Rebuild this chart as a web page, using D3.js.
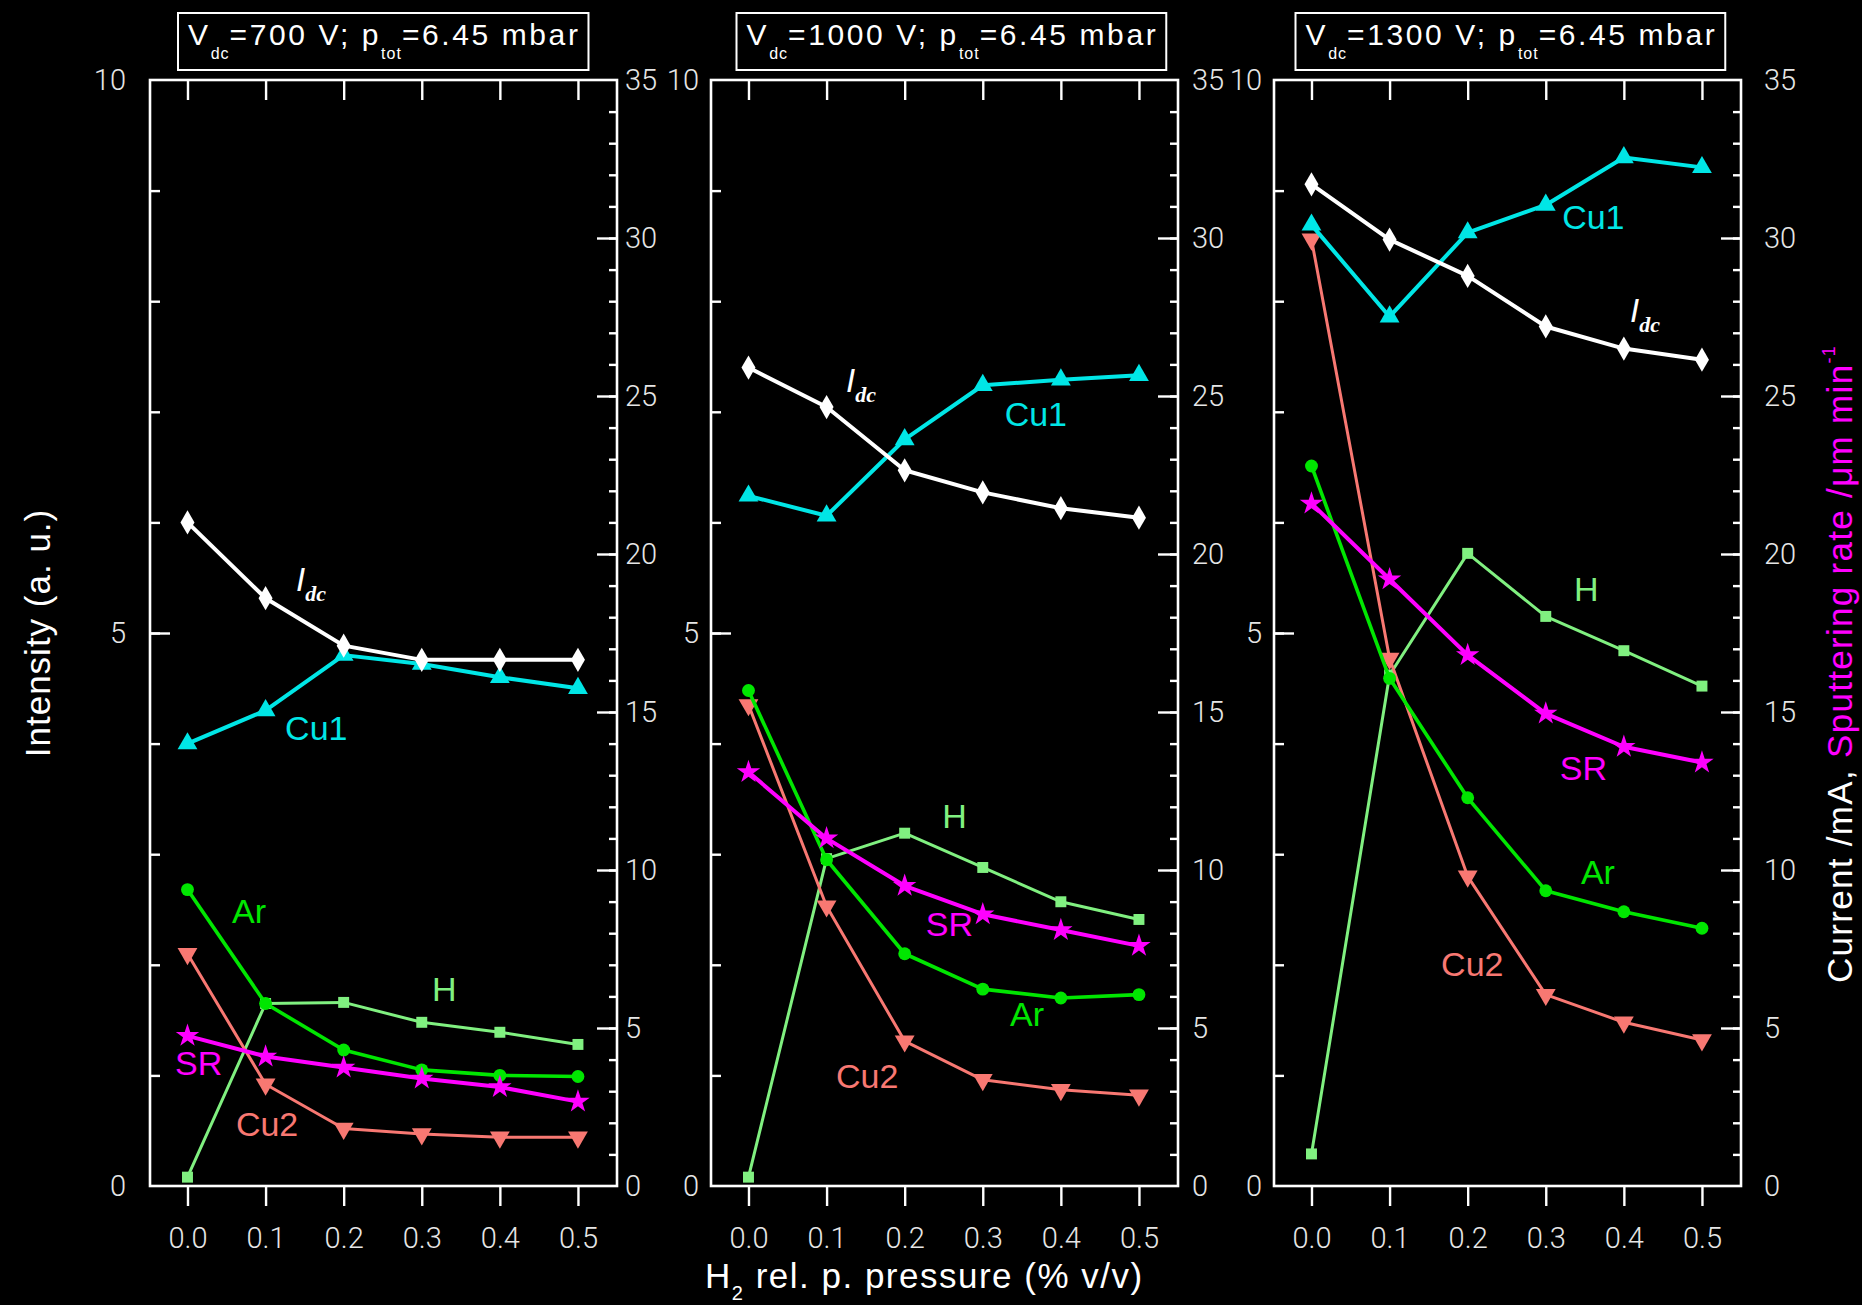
<!DOCTYPE html>
<html><head><meta charset="utf-8">
<script src="https://cdn.jsdelivr.net/npm/d3@7"></script>
<style>
html,body{margin:0;padding:0;background:#000;}
svg{display:block;}
text{white-space:pre;}
</style></head><body>
<svg id="chart" width="1862" height="1305"></svg>
<script>
// ---------------- DATA ----------------
const pressure = [0.0, 0.1, 0.2, 0.3, 0.4, 0.5];
const xTickLabels = ["0.0", "0.1", "0.2", "0.3", "0.4", "0.5"];
const leftTicks = [0, 5, 10];
const rightTicks = [0, 5, 10, 15, 20, 25, 30, 35];
const voltages = ["700", "1000", "1300"];
const totalPressure = "6.45";

// Vdc = 700 V
const idc_700 = [21.0, 18.6, 17.1, 16.65, 16.65, 16.65];
const cu1_700 = [4.0, 4.3, 4.8, 4.72, 4.6, 4.5];
const ar_700  = [2.68, 1.65, 1.23, 1.05, 1.0, 0.99];
const h_700   = [0.08, 1.65, 1.66, 1.48, 1.39, 1.28];
const cu2_700 = [2.1, 0.92, 0.52, 0.47, 0.44, 0.44];
const sr_700  = [4.75, 4.1, 3.75, 3.4, 3.13, 2.67];
// Vdc = 1000 V
const idc_1000 = [25.9, 24.65, 22.65, 21.95, 21.45, 21.15];
const cu1_1000 = [6.24, 6.06, 6.75, 7.24, 7.29, 7.33];
const ar_1000  = [4.48, 2.95, 2.1, 1.78, 1.7, 1.73];
const h_1000   = [0.08, 2.96, 3.19, 2.88, 2.57, 2.41];
const cu2_1000 = [4.35, 2.53, 1.31, 0.96, 0.87, 0.82];
const sr_1000  = [13.1, 11.0, 9.5, 8.6, 8.1, 7.6];
// Vdc = 1300 V
const idc_1300 = [31.7, 29.95, 28.8, 27.2, 26.5, 26.15];
const cu1_1300 = [8.69, 7.86, 8.62, 8.87, 9.3, 9.21];
const ar_1300  = [6.51, 4.59, 3.51, 2.67, 2.48, 2.33];
const h_1300   = [0.29, 4.62, 5.72, 5.15, 4.84, 4.52];
const cu2_1300 = [8.56, 4.77, 2.8, 1.73, 1.48, 1.32];
const sr_1300  = [21.6, 19.2, 16.8, 14.95, 13.9, 13.4];

const seriesNames = {h: "H", cu2: "Cu2", ar: "Ar", sr: "SR", cu1: "Cu1", idc: "I"};

const panelData = [
  {idc: idc_700, cu1: cu1_700, ar: ar_700, h: h_700, cu2: cu2_700, sr: sr_700},
  {idc: idc_1000, cu1: cu1_1000, ar: ar_1000, h: h_1000, cu2: cu2_1000, sr: sr_1000},
  {idc: idc_1300, cu1: cu1_1300, ar: ar_1300, h: h_1300, cu2: cu2_1300, sr: sr_1300}
];

// ---------------- LAYOUT / STYLE ----------------
const plotTop = 80, plotBottom = 1186, plotW = 467;
const panelLeft = [150, 711, 1274];
const leftLabelGap = [24, 12, 12];
const rightLabelGap = [8, 14, 23];
const titleTextX = [188, 746.5, 1305.5];
const tickFont = "Roboto, 'Liberation Sans', Arial, sans-serif";
const mainFont = "'Liberation Sans', Arial, sans-serif";

// series label anchors (data coordinates: pressure, left-axis intensity)
const labelPos = [
  {idc: [0.139, 5.38], cu1: [0.125, 4.03], ar: [0.057, 2.38], h: [0.313, 1.67], sr: [-0.016, 1.0], cu2: [0.062, 0.45]},
  {idc: [0.125, 7.18], cu1: [0.328, 6.87], h: [0.248, 3.24], sr: [0.227, 2.26], ar: [0.335, 1.45], cu2: [0.112, 0.89]},
  {cu1: [0.321, 8.65], idc: [0.408, 7.81], h: [0.336, 5.29], sr: [0.318, 3.67], ar: [0.345, 2.73], cu2: [0.166, 1.90]}
];

const style = {
  h:   {color: "#80f080", width: 3,   symbol: d3.symbolSquare,   size: 120, axis: "L", rot: 0},
  cu2: {color: "#f87872", width: 3,   symbol: d3.symbolTriangle, size: 170, axis: "L", rot: 180},
  ar:  {color: "#00e600", width: 3.6, symbol: d3.symbolCircle,   size: 130, axis: "L", rot: 0},
  sr:  {color: "#ff00ff", width: 4,   symbol: d3.symbolStar,     size: 170, axis: "R", rot: 0},
  cu1: {color: "#00e6e6", width: 4,   symbol: d3.symbolTriangle, size: 170, axis: "L", rot: 0},
  idc: {color: "#ffffff", width: 4,   symbol: d3.symbolDiamond,  size: 170, axis: "R", rot: 0}
};
const drawOrder = ["h", "cu2", "ar", "sr", "cu1", "idc"];

const svg = d3.select("#chart");
svg.append("rect").attr("width", 1862).attr("height", 1305).attr("fill", "#000");

function styleTicks(sel) {
  sel.select(".domain").remove();
  sel.selectAll(".tick line").attr("stroke", "#fff").attr("stroke-width", 2.4);
  sel.selectAll("text").attr("fill", "#e6e6e6").attr("font-family", tickFont)
     .attr("font-weight", 300).attr("font-size", 29);
}

panelData.forEach((pd, i) => {
  const L = panelLeft[i], R = L + plotW;
  const x = d3.scaleLinear().domain([-0.048, 0.55]).range([L, R]);
  const yL = d3.scaleLinear().domain([0, 10]).range([plotBottom, plotTop]);
  const yR = d3.scaleLinear().domain([0, 35]).range([plotBottom, plotTop]);
  const g = svg.append("g");

  // left ticks (inward)
  g.append("g").attr("transform", `translate(${L},0)`)
    .call(d3.axisRight(yL).tickValues(d3.range(1, 10)).tickSize(10).tickFormat(""))
    .call(styleTicks);
  g.append("g").attr("transform", `translate(${L},0)`)
    .call(d3.axisRight(yL).tickValues([5]).tickSize(20).tickFormat(""))
    .call(styleTicks);
  g.append("g").attr("transform", `translate(${L},0)`)
    .call(d3.axisLeft(yL).tickValues(leftTicks).tickSize(0).tickPadding(leftLabelGap[i]).tickFormat(d3.format("d")))
    .call(styleTicks);

  // right ticks (inward)
  g.append("g").attr("transform", `translate(${R},0)`)
    .call(d3.axisLeft(yR).tickValues(d3.range(1, 35)).tickSize(8).tickFormat(""))
    .call(styleTicks);
  g.append("g").attr("transform", `translate(${R},0)`)
    .call(d3.axisLeft(yR).tickValues([5, 10, 15, 20, 25, 30]).tickSize(20).tickFormat(""))
    .call(styleTicks);
  g.append("g").attr("transform", `translate(${R},0)`)
    .call(d3.axisRight(yR).tickValues(rightTicks).tickSize(0).tickPadding(rightLabelGap[i]).tickFormat(d3.format("d")))
    .call(styleTicks);

  // top ticks (inward) and bottom ticks (outward)
  g.append("g").attr("transform", `translate(0,${plotTop})`)
    .call(d3.axisBottom(x).tickValues(pressure).tickSize(20).tickFormat(""))
    .call(styleTicks);
  g.append("g").attr("transform", `translate(0,${plotBottom})`)
    .call(d3.axisBottom(x).tickValues(pressure).tickSize(20).tickPadding(21).tickFormat((d, k) => xTickLabels[k]))
    .call(styleTicks);

  // frame
  g.append("rect").attr("x", L).attr("y", plotTop).attr("width", plotW).attr("height", plotBottom - plotTop)
    .attr("fill", "none").attr("stroke", "#fff").attr("stroke-width", 2.6);

  // series
  drawOrder.forEach(key => {
    const st = style[key];
    const ys = st.axis === "L" ? yL : yR;
    const pts = pressure.map((p, k) => ({p, v: pd[key][k]}));
    g.append("path").datum(pts)
      .attr("fill", "none").attr("stroke", st.color).attr("stroke-width", st.width)
      .attr("stroke-linejoin", "round")
      .attr("d", d3.line().x(d => x(d.p)).y(d => ys(d.v)));
    g.selectAll(null).data(pts).join("path")
      .attr("transform", d => `translate(${x(d.p)},${ys(d.v)}) rotate(${st.rot})`)
      .attr("d", d3.symbol().type(st.symbol).size(st.size))
      .attr("fill", st.color);
  });

  // series labels
  Object.keys(labelPos[i]).forEach(key => {
    const [lx, ly] = labelPos[i][key];
    const t = g.append("text").attr("x", x(lx)).attr("y", yL(ly))
      .attr("fill", style[key].color).attr("font-family", mainFont).attr("font-size", 34);
    if (key === "idc") {
      t.append("tspan").attr("font-style", "italic").attr("font-size", 33).text(seriesNames[key]);
      t.append("tspan").attr("font-style", "italic").attr("font-weight", "bold")
        .attr("font-family", "'Liberation Serif', serif").attr("font-size", 22).attr("dy", 10).text("dc");
    } else {
      t.text(seriesNames[key]);
    }
  });

  // title box
  const tt = g.append("text").attr("x", titleTextX[i]).attr("y", 45)
    .attr("fill", "#fff").attr("font-family", mainFont).attr("font-size", 30).attr("letter-spacing", 2.6);
  tt.append("tspan").text("V");
  tt.append("tspan").attr("font-size", 16).attr("dy", 14).attr("letter-spacing", 1).text("dc");
  tt.append("tspan").attr("dy", -14).text(`=${voltages[i]} V; p`);
  tt.append("tspan").attr("font-size", 16).attr("dy", 14).attr("letter-spacing", 1).text("tot");
  tt.append("tspan").attr("dy", -14).text(`=${totalPressure} mbar`);
  const bb = tt.node().getBBox();
  g.append("rect").attr("x", bb.x - 10).attr("y", 13).attr("width", bb.width + 18).attr("height", 57)
    .attr("fill", "none").attr("stroke", "#fff").attr("stroke-width", 2);
});

// axis titles
svg.append("text").attr("transform", "translate(50,633) rotate(-90)")
  .attr("text-anchor", "middle").attr("fill", "#fff").attr("font-family", mainFont)
  .attr("font-size", 35).attr("letter-spacing", 1).text("Intensity (a. u.)");

const xl = svg.append("text").attr("x", 705).attr("y", 1288).attr("fill", "#fff")
  .attr("font-family", mainFont).attr("font-size", 35).attr("letter-spacing", 1.5);
xl.append("tspan").text("H");
xl.append("tspan").attr("font-size", 20).attr("dy", 12).text("2");
xl.append("tspan").attr("dy", -12).text(" rel. p. pressure (% v/v)");

const rt = svg.append("text").attr("transform", "translate(1852,983) rotate(-90)")
  .attr("font-family", mainFont).attr("font-size", 35).attr("letter-spacing", 1.3);
rt.append("tspan").attr("fill", "#fff").text("Current /mA, ");
rt.append("tspan").attr("fill", "#ff00ff").text("Sputtering rate /\u03bcm min");
rt.append("tspan").attr("fill", "#ff00ff").attr("font-size", 18).attr("dy", -17).text("-1");
</script>
</body></html>
